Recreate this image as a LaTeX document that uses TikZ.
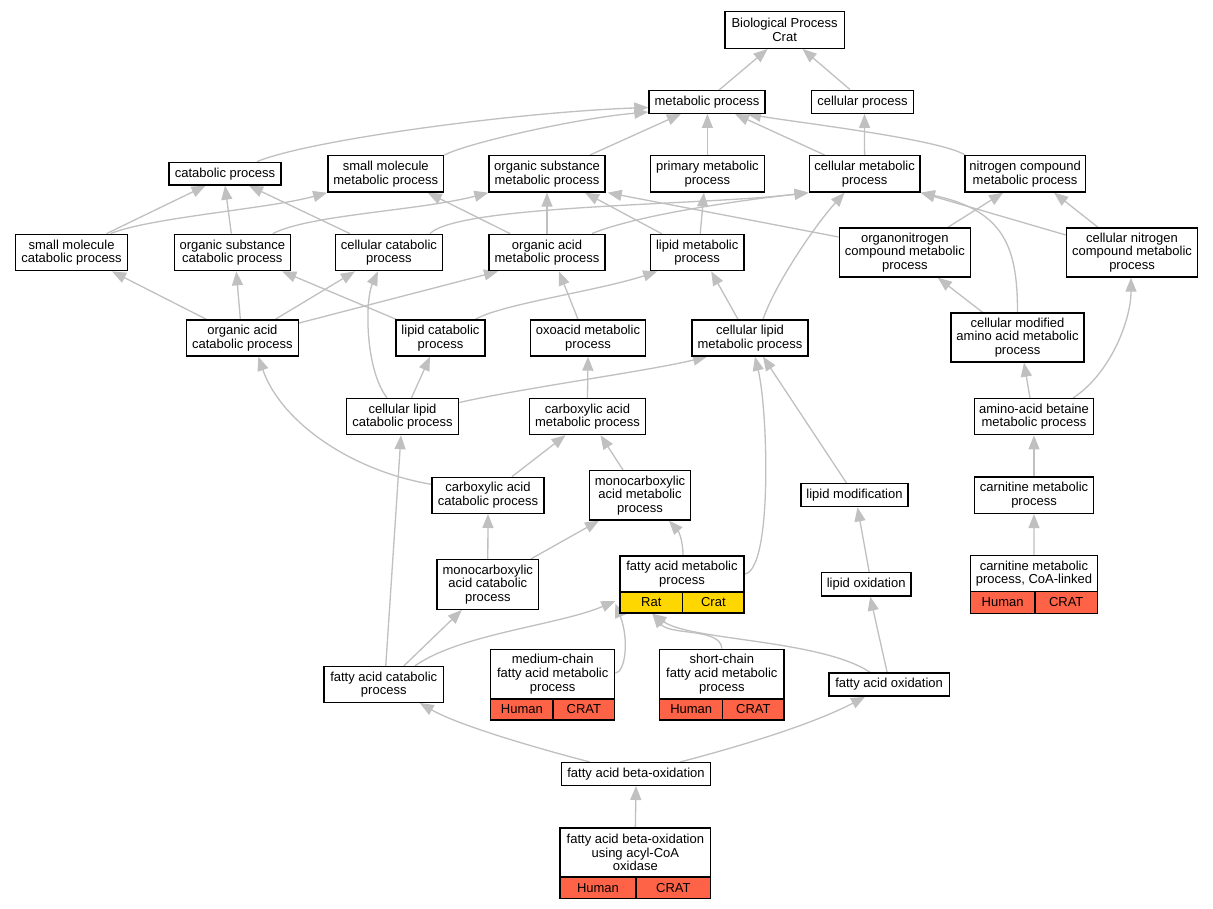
\documentclass[tikz,border=0pt]{standalone}
\usepackage{fontspec}
\setmainfont{Liberation Sans}
\usetikzlibrary{arrows.meta,calc}
\pgfdeclarelayer{back}
\pgfdeclarelayer{bg}
\pgfsetlayers{back,bg,main}
\definecolor{edgec}{HTML}{C0C0C0}
\definecolor{redc}{HTML}{FF6347}
\definecolor{yelc}{HTML}{FFD700}
\tikzset{
 box/.style={draw=black, line width=1.4pt, fill=white, inner sep=0pt, align=center, font=\fontsize{13}{13.6}\selectfont},
 cellred/.style={box, fill=redc},
 cellyel/.style={box, fill=yelc},
 edge/.style={draw=edgec, line width=1.3pt, -{Triangle[length=14pt,width=11pt]}},
}
\begin{document}
\begin{tikzpicture}[x=1pt,y=-1pt]
\begin{pgfonlayer}{back}
\fill[white] (0,0) rectangle (1213,909);
\end{pgfonlayer}
\useasboundingbox (0,0) rectangle (1213,909);

\node[box,minimum width=119.6pt,minimum height=36.6pt] (nBP) at (784.6,30) {Biological Process\\Crat};
\node[box,minimum width=116pt,minimum height=22.5pt] (nMP) at (707,102) {metabolic process};
\node[box,minimum width=101.7pt,minimum height=23pt] (nCP) at (862.5,101.8) {cellular process};
\node[box,minimum width=112.3pt,minimum height=22.7pt] (nCATP) at (225,173.65) {catabolic process};
\node[box,minimum width=115.9pt,minimum height=36.3pt] (nSMM) at (385.75,173.85) {small molecule\\metabolic process};
\node[box,minimum width=115.9pt,minimum height=36.3pt] (nOSM) at (547,173.85) {organic substance\\metabolic process};
\node[box,minimum width=113.9pt,minimum height=36.3pt] (nPM) at (707.4,173.85) {primary metabolic\\process};
\node[box,minimum width=110.8pt,minimum height=36.3pt] (nCM) at (864.6,173.85) {cellular metabolic\\process};
\node[box,minimum width=120.4pt,minimum height=36.3pt] (nNCM) at (1025.1,173.85) {nitrogen compound\\metabolic process};
\node[box,minimum width=112.3pt,minimum height=36.4pt] (nSMC) at (71.55,252.5) {small molecule\\catabolic process};
\node[box,minimum width=115.8pt,minimum height=36.4pt] (nOSC) at (232.3,252.5) {organic substance\\catabolic process};
\node[box,minimum width=107.2pt,minimum height=36.4pt] (nCC) at (388.9,252.5) {cellular catabolic\\process};
\node[box,minimum width=115.9pt,minimum height=36.4pt] (nOAM) at (547,252.5) {organic acid\\metabolic process};
\node[box,minimum width=93.5pt,minimum height=36pt] (nLM) at (697.2,252.7) {lipid metabolic\\process};
\node[box,minimum width=131.1pt,minimum height=49pt] (nONM) at (904.85,252.5) {organonitrogen\\compound metabolic\\process};
\node[box,minimum width=131pt,minimum height=49pt] (nCNCM) at (1132,252.5) {cellular nitrogen\\compound metabolic\\process};
\node[box,minimum width=112.3pt,minimum height=36pt] (nOAC) at (242.35,338) {organic acid\\catabolic process};
\node[box,minimum width=89.3pt,minimum height=36pt] (nLC) at (440.5,338) {lipid catabolic\\process};
\node[box,minimum width=115pt,minimum height=36pt] (nOXO) at (588,338) {oxoacid metabolic\\process};
\node[box,minimum width=116pt,minimum height=36pt] (nCLM) at (750,338) {cellular lipid\\metabolic process};
\node[box,minimum width=133pt,minimum height=49pt] (nCMAM) at (1017.5,337.5) {cellular modified\\amino acid metabolic\\process};
\node[box,minimum width=112.3pt,minimum height=36pt] (nCLC) at (402.5,416.5) {cellular lipid\\catabolic process};
\node[box,minimum width=116.4pt,minimum height=36pt] (nCAM) at (587.5,416.5) {carboxylic acid\\metabolic process};
\node[box,minimum width=119pt,minimum height=36pt] (nCAB) at (1034,416.7) {amino-acid betaine\\metabolic process};
\node[box,minimum width=112.2pt,minimum height=36pt] (nCAC) at (488,495.3) {carboxylic acid\\catabolic process};
\node[box,minimum width=101.5pt,minimum height=49.3pt] (nMCAM) at (640,495.3) {monocarboxylic\\acid metabolic\\process};
\node[box,minimum width=107pt,minimum height=23pt] (nLMOD) at (854.5,495.2) {lipid modification};
\node[box,minimum width=119pt,minimum height=36.3pt] (nCARN) at (1034,495.2) {carnitine metabolic\\process};
\node[box,minimum width=101.5pt,minimum height=49.6pt] (nMCAC) at (487.8,584.5) {monocarboxylic\\acid catabolic\\process};
\node[box,minimum width=124pt,minimum height=36pt] (nFAM) at (682,574) {fatty acid metabolic\\process};
\node[cellyel,minimum width=62.7pt,minimum height=21pt] (nFAMa) at (651.35,602.5) {Rat};
\node[cellyel,minimum width=61.3pt,minimum height=21pt] (nFAMb) at (713.35,602.5) {Crat};
\node[box,minimum width=89.6pt,minimum height=23.3pt] (nLOX) at (866.2,584.3) {lipid oxidation};
\node[box,minimum width=127.1pt,minimum height=36pt] (nCARNC) at (1033.95,573.7) {carnitine metabolic\\process, CoA-linked};
\node[cellred,minimum width=64.5pt,minimum height=21.6pt] (nCARNCa) at (1002.65,602.5) {Human};
\node[cellred,minimum width=62.6pt,minimum height=21.6pt] (nCARNCb) at (1066.2,602.5) {CRAT};
\node[box,minimum width=119.9pt,minimum height=35.6pt] (nFAC) at (383.75,684.5) {fatty acid catabolic\\process};
\node[box,minimum width=124pt,minimum height=49.7pt] (nMED) at (552.7,674.15) {medium-chain\\fatty acid metabolic\\process};
\node[cellred,minimum width=62.3pt,minimum height=21pt] (nMEDa) at (521.85,709.5) {Human};
\node[cellred,minimum width=61.7pt,minimum height=21pt] (nMEDb) at (583.85,709.5) {CRAT};
\node[box,minimum width=124.3pt,minimum height=49.7pt] (nSHC) at (721.85,674.15) {short-chain\\fatty acid metabolic\\process};
\node[cellred,minimum width=63pt,minimum height=21pt] (nSHCa) at (691.2,709.5) {Human};
\node[cellred,minimum width=61.3pt,minimum height=21pt] (nSHCb) at (753.35,709.5) {CRAT};
\node[box,minimum width=120.2pt,minimum height=23pt] (nFAO) at (889.1,684.5) {fatty acid oxidation};
\node[box,minimum width=149.4pt,minimum height=22.6pt] (nFABO) at (636,774) {fatty acid beta-oxidation};
\node[box,minimum width=150.7pt,minimum height=49pt] (nFABOA) at (635.35,852.5) {fatty acid beta-oxidation\\using acyl-CoA\\oxidase};
\node[cellred,minimum width=76pt,minimum height=21.7pt] (nFABOAa) at (598,887.85) {Human};
\node[cellred,minimum width=74.7pt,minimum height=21.7pt] (nFABOAb) at (673.35,887.85) {CRAT};

\begin{pgfonlayer}{bg}
\draw[edge] ($(nMP.north)+(12,0)$) -- ($(nBP.south)+(-17,0)$);
\draw[edge] ($(nCP.north)+(-12.5,0)$) -- ($(nBP.south)+(18,0)$);
\draw[edge] ($(nCATP.north)+(32,0)$) .. controls +(53,-22) and +(-129,4.5) .. ($(nMP.west)+(0,5.5)$);
\draw[edge] (nSMM.north east) .. controls +(26,-13) and +(-69,6) .. ($(nMP.west)+(0,10)$);
\draw[edge] ($(nOSM.north)+(43,0)$) -- ($(nMP.south)+(-26,0)$);
\draw[edge] (nPM.north) -- ($(nMP.south)+(0.4,0)$);
\draw[edge] ($(nCM.north)+(-40,0)$) -- ($(nMP.south)+(28,0)$);
\draw[edge] ($(nNCM.north west)+(1,0)$) .. controls +(-26,-16) and +(53,9) .. ($(nMP.south)+(40,0)$);
\draw[edge] (nCM.north) -- ($(nCP.south)+(2,0)$);
\draw[edge] ($(nSMC.north)+(35,0)$) -- ($(nCATP.south)+(-19.5,0)$);
\draw[edge] ($(nSMC.north)+(39,0)$) .. controls +(39,-16) and +(-58,16) .. (nSMM.south west);
\draw[edge] ($(nOSC.north)+(-1,0)$) -- (nCATP.south);
\draw[edge] ($(nOSC.north)+(40.5,0)$) .. controls +(37,-19) and +(-69,18) .. (nOSM.south west);
\draw[edge] ($(nCC.north)+(-39,0)$) -- ($(nCATP.south)+(24,0)$);
\draw[edge] ($(nCC.north)+(41,0)$) .. controls +(30,-29) and +(-109,13) .. (nCM.south west);
\draw[edge] ($(nOAM.north)+(45,0)$) .. controls +(38,-16) and +(-89,10) .. (nCM.south west);
\draw[edge] ($(nOAM.north)+(-37,0)$) -- ($(nSMM.south)+(42,0)$);
\draw[edge] (nOAM.north) -- (nOSM.south);
\draw[edge] ($(nLM.north)+(-35,0)$) -- ($(nOSM.south)+(38,0)$);
\draw[edge] ($(nLM.north)+(3,0)$) -- ($(nPM.south)+(-3.5,0)$);
\draw[edge] ($(nONM.west)+(0,-15.5)$) -- ($(nOSM.south east)+(2,0)$);
\draw[edge] ($(nONM.north)+(43,0)$) -- ($(nNCM.south)+(-22,0)$);
\draw[edge] ($(nCNCM.north)+(-34,0)$) -- ($(nNCM.south)+(29,0)$);
\draw[edge] ($(nCNCM.west)+(0,-17.5)$) -- (nCM.south east);
\draw[edge] (nCMAM.north) .. controls +(0,-63) and +(85,18) .. (nCM.south east);
\draw[edge] ($(nOAC.north)+(-36,0)$) -- ($(nSMC.south)+(40.5,0)$);
\draw[edge] ($(nOAC.north)+(-2,0)$) -- ($(nOSC.south)+(4,0)$);
\draw[edge] ($(nOAC.north)+(33,0)$) -- ($(nCC.south)+(-34,0)$);
\draw[edge] ($(nOAC.east)+(0,-15)$) -- ($(nOAM.south)+(-49,0)$);
\draw[edge] ($(nLC.north west)+(1,0)$) -- ($(nOSC.south)+(50,0)$);
\draw[edge] ($(nLC.north)+(35,0)$) .. controls +(25,-15) and +(-57,19) .. ($(nLM.south)+(-40,0)$);
\draw[edge] ($(nOXO.north)+(-10,0)$) -- ($(nOAM.south)+(12,0)$);
\draw[edge] ($(nCLM.north)+(-12,0)$) -- ($(nLM.south)+(14,0)$);
\draw[edge] ($(nCLM.north)+(13,0)$) .. controls +(12,-35) and +(-30,33) .. ($(nCM.south)+(-20,0)$);
\draw[edge] ($(nCMAM.north)+(-35,0)$) -- ($(nONM.south)+(33,0)$);
\draw[edge] ($(nCLC.north)+(-15.5,0)$) .. controls +(-22,-28.5) and +(-13,29) .. ($(nCC.south)+(-11,0)$);
\draw[edge] ($(nCLC.north)+(9,0)$) -- ($(nLC.south)+(-10.5,0)$);
\draw[edge] ($(nCLC.east)+(0,-14)$) .. controls +(61,-14) and +(-57,14) .. ($(nCLM.south)+(-43,0)$);
\draw[edge] (nCAM.north) -- (nOXO.south);
\draw[edge] ($(nCAB.north)+(-4,0)$) -- ($(nCMAM.south)+(6.5,0)$);
\draw[edge] ($(nCAB.north)+(39,0)$) .. controls +(37,-24) and +(0,43) .. ($(nCNCM.south)+(-1,0)$);
\draw[edge] ($(nCAC.west)+(0,-11)$) .. controls +(-82,-14) and +(22,64) .. ($(nOAC.south)+(16,0)$);
\draw[edge] ($(nCAC.north)+(24,0)$) -- ($(nCAM.south)+(-22,0)$);
\draw[edge] ($(nMCAM.north)+(-17,0)$) -- ($(nCAM.south)+(13,0)$);
\draw[edge] ($(nLMOD.north)+(-8,0)$) -- ($(nCLM.south)+(13,0)$);
\draw[edge] (nCARN.north) -- (nCAB.south);
\draw[edge] (nMCAC.north) -- (nCAC.south);
\draw[edge] ($(nMCAC.north)+(43,0)$) -- ($(nMCAM.south)+(-41,0)$);
\draw[edge] ($(nFAM.north)+(1,0)$) .. controls +(0,-16) and +(9,10) .. ($(nMCAM.south)+(29,0)$);
\draw[edge] (nFAM.east) .. controls +(28,-4) and +(13,54) .. ($(nCLM.south)+(5,0)$);
\draw[edge] ($(nLOX.north)+(3,0)$) -- ($(nLMOD.south)+(3,0)$);
\draw[edge] (nCARNC.north) -- (nCARN.south);
\draw[edge] ($(nFAC.north)+(20,0)$) -- ($(nMCAC.south)+(-26,0)$);
\draw[edge] ($(nFAC.north)+(31,0)$) .. controls +(45,-32) and +(-56,24) .. ($(nFAMa.west)+(-4,-1.5)$);
\draw[edge] ($(nMED.east)+(0,-1)$) .. controls +(10,-1) and +(14,36) .. ($(nFAMa.west)+(-4,1)$);
\draw[edge] (nSHC.north) .. controls +(-1,-21) and +(18,22) .. ($(nFAMa.south)+(1,0)$);
\draw[edge] ($(nFAO.north)+(-19,0)$) .. controls +(-50,-33) and +(38,27) .. ($(nFAMa.south)+(1,0)$);
\draw[edge] ($(nFAO.north)+(-2,0)$) -- ($(nLOX.south)+(4,0)$);
\draw[edge] ($(nFABO.north)+(-46,0)$) .. controls +(-50,-13) and +(40,23) .. ($(nFAC.south)+(36,0)$);
\draw[edge] ($(nFABO.north)+(44,0)$) .. controls +(50,-13) and +(-55,29) .. ($(nFAO.south)+(-24,0)$);
\draw[edge] (nFABOA.north) -- (nFABO.south);
\draw[edge] ($(nFAC.north)+(2,0)$) -- ($(nCLC.south)+(-1.5,0)$);
\end{pgfonlayer}
\end{tikzpicture}
\end{document}
